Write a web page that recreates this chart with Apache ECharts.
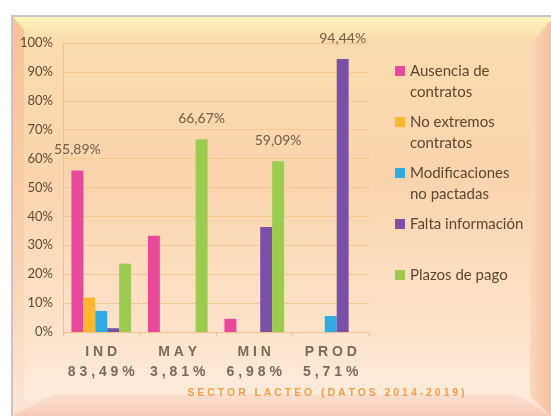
<!DOCTYPE html>
<html>
<head>
<meta charset="utf-8">
<script src="https://cdn.jsdelivr.net/npm/echarts@6/dist/echarts.min.js"></script>
<style>
  html, body { margin: 0; padding: 0; background: #fff; }
  #chart { width: 551px; height: 416px; }
</style>
</head>
<body>
<div id="chart"></div>
<script>
// datos
const categories = ['IND', 'MAY', 'MIN', 'PROD']
const shares = ['83,49%', '3,81%', '6,98%', '5,71%']
const seriesNames = ['Ausencia de contratos', 'No extremos contratos', 'Modificaciones no pactadas', 'Falta información', 'Plazos de pago']
const legendLines = [['Ausencia de', 'contratos'], ['No extremos', 'contratos'], ['Modificaciones', 'no pactadas'], ['Falta información'], ['Plazos de pago']]
const ausencia = [55.89, 33.33, 4.55, 0]
const noExtremos = [11.9, 0, 0, 0]
const modificaciones = [7.3, 0, 0, 5.56]
const falta = [1.3, 0, 36.36, 94.44]
const plazos = [23.61, 66.67, 59.09, 0]
const colors = ['#e9489c', '#fbb82f', '#2eabe3', '#7a50a6', '#9bcc4f']
const titleText = 'SECTOR LACTEO (DATOS 2014-2019)'

const allValues = [ausencia, noExtremos, modificaciones, falta, plazos]

// espaciar letras
const spaced = s => s.split('').join(' ')

// solo se etiqueta la barra mayor de cada categoria
const catMax = categories.map((c, i) => Math.max(...allValues.map(v => v[i])))

const chart = echarts.init(document.getElementById('chart'))

const series = allValues.map((vals, s) => ({
  name: seriesNames[s],
  type: 'bar',
  barGap: '0%',
  barCategoryGap: '22%',
  itemStyle: { color: colors[s] },
  data: vals.map((v, i) => ({
    value: v,
    label: { show: v === catMax[i] }
  })),
  label: {
    position: 'top',
    distance: 14,
    fontFamily: 'Lato',
    fontSize: 14,
    color: '#6e5c45',
    formatter: p => p.value.toFixed(2).replace('.', ',') + '%'
  }
}))

const option = {
  backgroundColor: '#ffffff',
  animation: false,
  color: colors,
  graphic: [
    {
      type: 'rect', silent: true, z: -10,
      shape: { x: 12, y: 16, width: 545, height: 406 },
      style: {
        fill: new echarts.graphic.LinearGradient(0, 0, 0, 1, [
          { offset: 0, color: '#fdf1b6' },
          { offset: 0.06, color: '#fbdcae' },
          { offset: 0.4, color: '#fad4ad' },
          { offset: 0.75, color: '#fde2c8' },
          { offset: 0.93, color: '#fdebdb' },
          { offset: 1, color: '#f8d4c2' }
        ]),
        stroke: '#c6c4d0',
        lineWidth: 2
      }
    },
    {
      type: 'polygon', silent: true, z: -9,
      shape: { points: [[13, 17], [551, 17], [534, 34], [26, 34]] },
      style: {
        fill: new echarts.graphic.LinearGradient(0, 0, 0, 1, [
          { offset: 0, color: '#fef5ba' },
          { offset: 1, color: '#fbe3b0' }
        ])
      }
    },
    {
      type: 'polygon', silent: true, z: -9,
      shape: { points: [[13, 17], [24, 30], [24, 396], [13, 416]] },
      style: {
        fill: new echarts.graphic.LinearGradient(0, 0, 0, 1, [
          { offset: 0, color: '#f7c294' },
          { offset: 0.6, color: '#f9d2b0' },
          { offset: 1, color: '#fce6d8' }
        ])
      }
    },
    {
      type: 'polygon', silent: true, z: -9,
      shape: { points: [[551, 20], [530, 46], [530, 396], [551, 416]] },
      style: {
        fill: new echarts.graphic.LinearGradient(0, 0, 1, 0, [
          { offset: 0, color: '#fbd8bb' },
          { offset: 1, color: '#f6c09e' }
        ])
      }
    },
    {
      type: 'polygon', silent: true, z: -9,
      shape: { points: [[13, 416], [55, 394], [515, 394], [551, 416]] },
      style: {
        fill: new echarts.graphic.LinearGradient(0, 0, 0, 1, [
          { offset: 0, color: '#fbe0d0' },
          { offset: 1, color: '#f6cbb8' }
        ])
      }
    },
    {
      type: 'text', silent: true,
      x: 326, y: 393,
      style: {
        text: spaced(titleText),
        textAlign: 'center',
        textVerticalAlign: 'middle',
        fontFamily: 'Liberation Sans',
        fontWeight: 'bold',
        fontSize: 10.5,
        fill: '#f3a048'
      }
    }
  ],
  legend: {
    orient: 'vertical',
    left: 395,
    top: 39.5,
    padding: 0,
    itemGap: -12,
    itemWidth: 10,
    itemHeight: 10,
    icon: 'rect',
    data: seriesNames,
    formatter: name => {
      const lines = legendLines[seriesNames.indexOf(name)]
      return '\n' + lines.join('\n') + (lines.length === 1 ? '\n' : '')
    },
    textStyle: {
      fontFamily: 'Lato',
      fontSize: 15,
      lineHeight: 21,
      color: '#5a4731'
    }
  },
  grid: {
    left: 63,
    right: 182,
    top: 43,
    bottom: 84
  },
  xAxis: {
    type: 'category',
    data: categories,
    axisLine: { lineStyle: { color: '#f5c088' } },
    axisTick: { show: true, length: 4, lineStyle: { color: '#f5c088' } },
    axisLabel: {
      interval: 0,
      margin: 10,
      lineHeight: 20,
      fontFamily: 'Liberation Sans',
      fontWeight: 'bold',
      fontSize: 14,
      color: '#7a6a59',
      formatter: (v, i) => spaced(v) + '\n' + spaced(shares[i])
    }
  },
  yAxis: {
    type: 'value',
    min: 0,
    max: 100,
    interval: 10,
    axisLine: { show: true, lineStyle: { color: '#f5c088' } },
    axisTick: { show: false },
    splitLine: { lineStyle: { color: '#f7c78e' } },
    axisLabel: {
      margin: 10,
      fontFamily: 'Lato',
      fontSize: 13,
      color: '#5e4a33',
      formatter: '{value}%'
    }
  },
  series: series
}

chart.setOption(option)
</script>
</body>
</html>
